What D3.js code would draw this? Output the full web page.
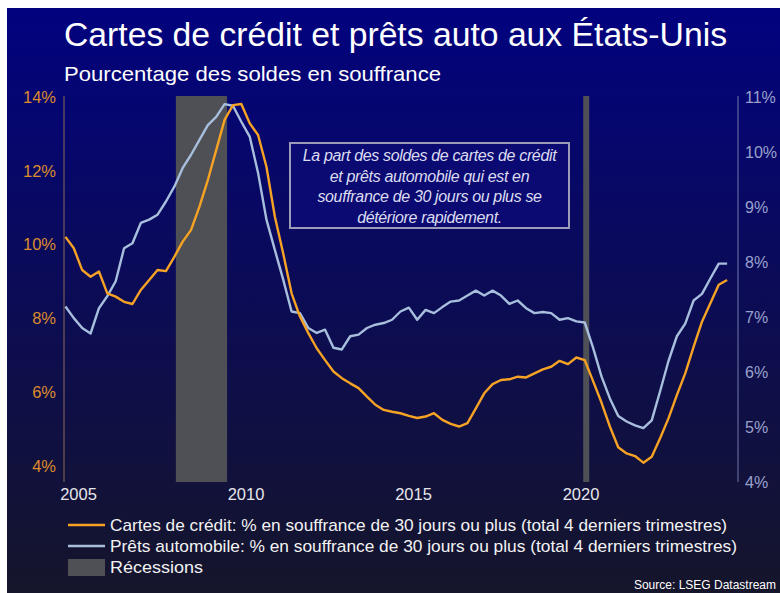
<!DOCTYPE html>
<html>
<head>
<meta charset="utf-8">
<script src="https://cdn.jsdelivr.net/npm/d3@7"></script>
<style>
  body { margin: 0; background: #ffffff; }
  svg { display: block; font-family: 'Liberation Sans', Arial, sans-serif; }
</style>
</head>
<body>
<div id="chart-mount"></div>
<script>
var WIDTH = 780;
var HEIGHT = 593;

// trimestres (milieu de trimestre sur l'axe)
var QUARTERS = [
  '2004T3', '2004T4',
  '2005T1', '2005T2', '2005T3', '2005T4', '2006T1', '2006T2', '2006T3', '2006T4',
  '2007T1', '2007T2', '2007T3', '2007T4', '2008T1', '2008T2', '2008T3', '2008T4',
  '2009T1', '2009T2', '2009T3', '2009T4', '2010T1', '2010T2', '2010T3', '2010T4',
  '2011T1', '2011T2', '2011T3', '2011T4', '2012T1', '2012T2', '2012T3', '2012T4',
  '2013T1', '2013T2', '2013T3', '2013T4', '2014T1', '2014T2', '2014T3', '2014T4',
  '2015T1', '2015T2', '2015T3', '2015T4', '2016T1', '2016T2', '2016T3', '2016T4',
  '2017T1', '2017T2', '2017T3', '2017T4', '2018T1', '2018T2', '2018T3', '2018T4',
  '2019T1', '2019T2', '2019T3', '2019T4', '2020T1', '2020T2', '2020T3', '2020T4',
  '2021T1', '2021T2', '2021T3', '2021T4', '2022T1', '2022T2', '2022T3', '2022T4',
  '2023T1', '2023T2', '2023T3', '2023T4', '2024T1', '2024T2'
];

// cartes de credit, axe gauche (%)
var CREDIT_CARDS = [
  10.21, 9.90,
  9.31, 9.13, 9.27, 8.68, 8.59, 8.45, 8.39, 8.77,
  9.04, 9.31, 9.28, 9.67, 10.08, 10.40, 11.03, 11.75,
  12.56, 13.38, 13.78, 13.81, 13.29, 12.97, 12.11, 10.76,
  9.76, 8.68, 8.05, 7.60, 7.19, 6.87, 6.56, 6.38,
  6.24, 6.11, 5.88, 5.66, 5.52, 5.47, 5.43, 5.36,
  5.30, 5.34, 5.43, 5.25, 5.14, 5.07, 5.16, 5.56,
  5.97, 6.22, 6.33, 6.35, 6.42, 6.40, 6.51, 6.62,
  6.69, 6.85, 6.76, 6.94, 6.87, 6.30, 5.72, 5.07,
  4.51, 4.34, 4.27, 4.09, 4.25, 4.75, 5.29, 5.92,
  6.51, 7.23, 7.91, 8.41, 8.91, 9.04
];

// prets automobile, axe droit (%)
var AUTO_LOANS = [
  7.19, 6.98,
  6.80, 6.70, 7.16, 7.38, 7.65, 8.25, 8.34, 8.71,
  8.77, 8.86, 9.10, 9.37, 9.71, 9.95, 10.22, 10.49,
  10.64, 10.87, 10.84, 10.55, 10.28, 9.62, 8.77, 8.22,
  7.68, 7.10, 7.07, 6.80, 6.71, 6.77, 6.44, 6.41,
  6.65, 6.68, 6.80, 6.86, 6.89, 6.95, 7.10, 7.17,
  6.95, 7.13, 7.07, 7.18, 7.28, 7.30, 7.39, 7.48,
  7.39, 7.48, 7.39, 7.24, 7.30, 7.16, 7.07, 7.09,
  7.07, 6.95, 6.98, 6.92, 6.90, 6.44, 5.92, 5.52,
  5.20, 5.10, 5.03, 4.98, 5.12, 5.65, 6.20, 6.65,
  6.88, 7.30, 7.42, 7.70, 7.97, 7.97
];

// recessions (annees decimales)
var RECESSIONS = [[2007.92, 2009.45], [2020.08, 2020.26]];

var YEAR_TICKS = [2005, 2010, 2015, 2020];
var LEFT_TICKS = [4, 6, 8, 10, 12, 14];
var RIGHT_TICKS = [4, 5, 6, 7, 8, 9, 10, 11];

var LEGEND_LABELS = [
  'Cartes de crédit: % en souffrance de 30 jours ou plus (total 4 derniers trimestres)',
  'Prêts automobile: % en souffrance de 30 jours ou plus (total 4 derniers trimestres)',
  'Récessions'
];
var LEGEND_WIDTHS = [617, 627, 93];

var NOTE_LINES = [
  'La part des soldes de cartes de crédit',
  'et prêts automobile qui est en',
  'souffrance de 30 jours ou plus se',
  'détériore rapidement.'
];

var ORANGE = '#f6a224';
var BLUE = '#a7bedc';
var GREY = '#4e5056';
var FONT = "'Liberation Sans', Arial, sans-serif";

var PLOT = { left: 64, right: 738, top: 96, bottom: 482 };

function quarterToYear (q) {
  return +q.slice(0, 4) + (+q.slice(5) - 0.5) / 4;
}

var x = d3.scaleLinear()
  .domain([2004.582, 2024.70])
  .range([PLOT.left, PLOT.right]);
var yLeft = d3.scaleLinear()
  .domain([4, 14])
  .range([466, 97]);
var yRight = d3.scaleLinear()
  .domain([4, 11])
  .range([482, 97]);

var $svg = d3.select('#chart-mount').append('svg')
  .attr('width', WIDTH)
  .attr('height', HEIGHT);

function drawBackground () {
  var grad = $svg.append('defs').append('linearGradient')
    .attr('id', 'bg-grad')
    .attr('x1', 0).attr('y1', 0)
    .attr('x2', 0).attr('y2', 1);
  grad.append('stop').attr('offset', '0%').attr('stop-color', '#02027f');
  grad.append('stop').attr('offset', '100%').attr('stop-color', '#15152b');

  $svg.append('rect')
    .attr('x', 7)
    .attr('y', 8)
    .attr('width', WIDTH - 7)
    .attr('height', HEIGHT - 8)
    .attr('fill', 'url(#bg-grad)');
}

function drawTitles () {
  $svg.append('text')
    .attr('x', 64)
    .attr('y', 46)
    .attr('fill', '#ffffff')
    .attr('textLength', 663)
    .attr('lengthAdjust', 'spacingAndGlyphs')
    .style('font-size', '33px')
    .text('Cartes de crédit et prêts auto aux États-Unis');

  $svg.append('text')
    .attr('x', 64)
    .attr('y', 81)
    .attr('fill', '#ffffff')
    .attr('textLength', 377)
    .attr('lengthAdjust', 'spacingAndGlyphs')
    .style('font-size', '21px')
    .text('Pourcentage des soldes en souffrance');
}

function drawRecessions () {
  $svg.append('g')
    .selectAll('rect')
    .data(RECESSIONS)
    .enter()
      .append('rect')
      .attr('x', function (d) { return x(d[0]); })
      .attr('width', function (d) { return x(d[1]) - x(d[0]); })
      .attr('y', PLOT.top)
      .attr('height', PLOT.bottom - PLOT.top)
      .attr('fill', GREY);
}

function drawAxes () {
  var left = $svg.append('g')
    .attr('transform', 'translate(' + PLOT.left + ',0)')
    .call(d3.axisLeft(yLeft)
      .tickValues(LEFT_TICKS)
      .tickSize(0)
      .tickPadding(8)
      .tickFormat(function (d) { return d + '%'; }));
  left.select('.domain').remove();
  left.selectAll('text')
    .attr('fill', '#dc8c2c')
    .style('font-size', '16.5px')
    .style('font-family', FONT);
  $svg.append('line')
    .attr('x1', PLOT.left).attr('x2', PLOT.left)
    .attr('y1', PLOT.top).attr('y2', PLOT.bottom)
    .attr('stroke', '#8a6a5a')
    .attr('stroke-width', 1);

  var right = $svg.append('g')
    .attr('transform', 'translate(' + PLOT.right + ',0)')
    .call(d3.axisRight(yRight)
      .tickValues(RIGHT_TICKS)
      .tickSize(0)
      .tickPadding(7)
      .tickFormat(function (d) { return d + '%'; }));
  right.select('.domain').remove();
  right.selectAll('text')
    .attr('fill', '#9aa2cc')
    .style('font-size', '16px')
    .style('font-family', FONT);
  $svg.append('line')
    .attr('x1', PLOT.right).attr('x2', PLOT.right)
    .attr('y1', PLOT.top).attr('y2', PLOT.bottom)
    .attr('stroke', '#7078a8')
    .attr('stroke-width', 1);

  var bottom = $svg.append('g')
    .attr('transform', 'translate(0,' + PLOT.bottom + ')')
    .call(d3.axisBottom(x)
      .tickValues(YEAR_TICKS)
      .tickSize(0)
      .tickPadding(6)
      .tickFormat(d3.format('d')));
  bottom.select('.domain').remove();
  bottom.selectAll('text')
    .attr('fill', '#e6e6ea')
    .style('font-size', '16.5px')
    .style('font-family', FONT);
}

function drawLines () {
  var creditLine = d3.line()
    .x(function (d, i) { return x(quarterToYear(QUARTERS[i])); })
    .y(function (d) { return yLeft(d); });
  var autoLine = d3.line()
    .x(function (d, i) { return x(quarterToYear(QUARTERS[i])); })
    .y(function (d) { return yRight(d); });

  $svg.append('path')
    .datum(AUTO_LOANS)
    .attr('d', autoLine)
    .attr('fill', 'none')
    .attr('stroke', BLUE)
    .attr('stroke-width', 2.4)
    .attr('stroke-linejoin', 'round');

  $svg.append('path')
    .datum(CREDIT_CARDS)
    .attr('d', creditLine)
    .attr('fill', 'none')
    .attr('stroke', ORANGE)
    .attr('stroke-width', 2.4)
    .attr('stroke-linejoin', 'round');
}

function drawNote () {
  var g = $svg.append('g');
  g.append('rect')
    .attr('x', 290)
    .attr('y', 143)
    .attr('width', 279)
    .attr('height', 85)
    .attr('fill', '#0a0a72')
    .attr('stroke', '#9c9cb8')
    .attr('stroke-width', 2);
  g.selectAll('text')
    .data(NOTE_LINES)
    .enter()
      .append('text')
      .attr('x', 429.5)
      .attr('y', function (d, i) { return 161 + i * 20.5; })
      .attr('text-anchor', 'middle')
      .attr('fill', '#dcdcf0')
      .style('font-size', '16px')
      .style('font-style', 'italic')
      .style('letter-spacing', '-0.35px')
      .text(function (d) { return d; });
}

function drawLegend () {
  var g = $svg.append('g');
  var rows = g.selectAll('g')
    .data(LEGEND_LABELS)
    .enter()
      .append('g')
      .attr('transform', function (d, i) { return 'translate(0,' + (525 + i * 21) + ')'; });

  rows.each(function (d, i) {
    var row = d3.select(this);
    if (i < 2) {
      row.append('line')
        .attr('x1', 68).attr('x2', 105)
        .attr('y1', 0).attr('y2', 0)
        .attr('stroke', i === 0 ? ORANGE : BLUE)
        .attr('stroke-width', 2.5);
    } else {
      row.append('rect')
        .attr('x', 68).attr('y', -8)
        .attr('width', 37).attr('height', 17)
        .attr('fill', GREY);
    }
  });

  rows.append('text')
    .attr('x', 110)
    .attr('y', 6)
    .attr('fill', '#f2f2f2')
    .attr('textLength', function (d, i) { return LEGEND_WIDTHS[i]; })
    .attr('lengthAdjust', 'spacingAndGlyphs')
    .style('font-size', '17px')
    .text(function (d) { return d; });

  $svg.append('text')
    .attr('x', 776)
    .attr('y', 589)
    .attr('text-anchor', 'end')
    .attr('fill', '#ffffff')
    .style('font-size', '12px')
    .text('Source: LSEG Datastream');
}

drawBackground();
drawTitles();
drawRecessions();
drawAxes();
drawLines();
drawNote();
drawLegend();
</script>
</body>
</html>
